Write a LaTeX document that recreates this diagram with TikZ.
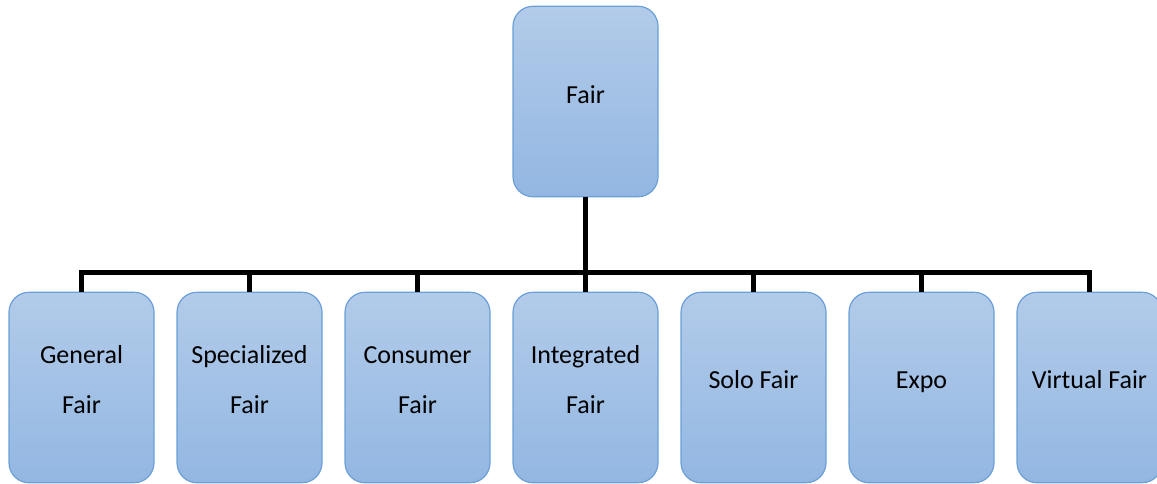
\documentclass[tikz,border=0pt]{standalone}
\usepackage{fontspec}
\setmainfont{Carlito}
\definecolor{boxtop}{HTML}{B2CBE9}
\definecolor{boxbot}{HTML}{93B7E2}
\definecolor{boxline}{HTML}{6A9FD8}
\tikzset{
  fairbox/.style={draw=boxline, line width=1.2pt, rounded corners=20pt,
    top color=boxtop, bottom color=boxbot, minimum width=145pt,
    minimum height=190.5pt, inner sep=0pt},
  fairtext/.style={align=center, inner sep=0pt,
    font=\fontsize{26}{50}\selectfont},
  conn/.style={line width=5pt, black, line join=miter}
}
\begin{document}
\begin{tikzpicture}[x=1pt,y=-1pt]
\useasboundingbox (0,0) rectangle (1157,483);
\node[fairbox] (top) at (585.5,101.5) {};
\node[fairtext, anchor=base] (ttop) at (585.5,103) {Fair};
\foreach \i/\x in {1/81.5,2/249.5,3/417.5,4/585.5,5/753.5,6/921.5,7/1089.5}{
  \node[fairbox] (b\i) at (\x,387.5) {};
}
\node[fairtext] (t1) at (81.5,380) {General\\Fair};
\node[fairtext] (t2) at (249.5,380) {Specialized\\Fair};
\node[fairtext] (t3) at (417.5,380) {Consumer\\Fair};
\node[fairtext] (t4) at (585.5,380) {Integrated\\Fair};
\node[fairtext, anchor=base] (t5) at (753.5,388) {Solo Fair};
\node[fairtext, anchor=base] (t6) at (921.5,388) {Expo};
\node[fairtext, anchor=base] (t7) at (1089.5,388) {Virtual Fair};
\coordinate (bus) at (585.5,272.5);
\draw[conn] (b1.north) -- (b1.north |- bus) -- (b7.north |- bus) -- (b7.north);
\draw[conn] (top.south) -- (bus);
\foreach \i in {2,...,6}{
  \draw[conn] (b\i.north) -- (b\i.north |- bus);
}
\end{tikzpicture}
\end{document}
